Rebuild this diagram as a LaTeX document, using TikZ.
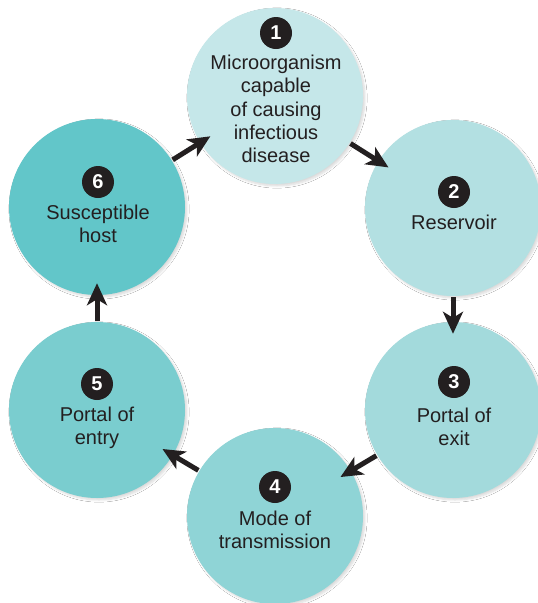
\documentclass[tikz,border=0pt]{standalone}
\usepackage{fontspec}
\setmainfont{Liberation Sans}
\usetikzlibrary{arrows.meta,shadows.blur}
\definecolor{cA}{HTML}{C5E7E9}
\definecolor{cB}{HTML}{B3E0E2}
\definecolor{cC}{HTML}{A3DADC}
\definecolor{cD}{HTML}{8FD4D6}
\definecolor{cE}{HTML}{7ACDCF}
\definecolor{cF}{HTML}{62C6C9}
\definecolor{ink}{HTML}{231F20}
\tikzset{
  stage/.style={circle, minimum size=176pt, inner sep=0pt,
    blur shadow={shadow xshift=2pt, shadow yshift=-2pt, shadow blur steps=6, shadow opacity=15}},
  badge/.style={circle, fill=ink, minimum size=32pt, inner sep=0pt,
    text=white, font=\fontsize{20}{22}\selectfont\bfseries},
  lbl/.style={align=center, text=ink, font=\fontsize{20}{23.4}\selectfont, inner sep=0pt},
  arr/.style={draw=ink, line width=5pt, shorten >=-12pt, shorten <=1pt,
    -{Stealth[length=22pt, width=20pt, inset=6pt]}}
}
\begin{document}
\begin{tikzpicture}[x=1pt,y=-1pt]
\useasboundingbox (0,0) rectangle (538,603);
\clip (0,0) rectangle (538,603);
\fill[white] (0,0) rectangle (538,603);
\node[stage, fill=cA] (c1) at (275,96) {};
\node[stage, fill=cB] (c2) at (453,208) {};
\node[stage, fill=cC] (c3) at (453,410) {};
\node[stage, fill=cD] (c4) at (275,516) {};
\node[stage, fill=cE] (c5) at (97,410) {};
\node[stage, fill=cF] (c6) at (97,207) {};

\node[badge] (b1) at (276,33) {1};
\node[badge] (b2) at (454,192) {2};
\node[badge] (b3) at (454,382) {3};
\node[badge] (b4) at (275,487) {4};
\node[badge] (b5) at (97,384) {5};
\node[badge] (b6) at (98,182) {6};

\node[lbl] (t1) at (276,109) {Microorganism\\capable\\of causing\\infectious\\disease};
\node[lbl] (t2) at (454,222) {Reservoir};
\node[lbl] (t3) at (454,427) {Portal of\\exit};
\node[lbl] (t4) at (275,530) {Mode of\\transmission};
\node[lbl] (t5) at (97,428) {Portal of\\entry};
\node[lbl] (t6) at (98,224) {Susceptible\\host};

\draw[arr] (c1) -- (c2);
\draw[arr] (c2) -- (c3);
\draw[arr] (c3) -- (c4);
\draw[arr] (c4) -- (c5);
\draw[arr] (c5) -- (c6);
\draw[arr] (c6) -- (c1);
\end{tikzpicture}
\end{document}
